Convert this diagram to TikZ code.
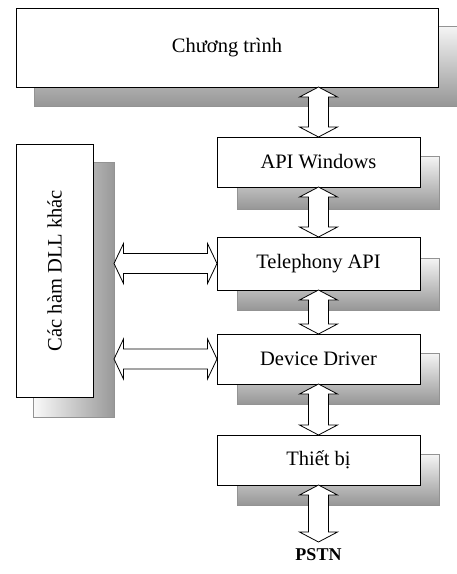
\documentclass[tikz,border=0pt]{standalone}
\usepackage{fontspec}
\setmainfont{Liberation Serif}
\usetikzlibrary{calc}
\tikzset{
  x=1pt, y=-1pt,
  box/.style={draw=black, line width=0.9pt, fill=white, inner sep=0pt, outer sep=0pt, anchor=north west,
              font=\fontsize{20.5}{24}\selectfont},
  shadowH/.style={draw=gray!85, line width=0.8pt, top color=gray!8, middle color=gray!50, bottom color=gray!82, inner sep=0pt, outer sep=0pt, anchor=north west},
  shadowV/.style={draw=gray!85, line width=0.8pt, left color=gray!4, middle color=gray!45, right color=gray!80, inner sep=0pt, outer sep=0pt, anchor=north west},
  fatarrow/.style={draw=black, line width=0.8pt, fill=white, line join=miter},
}
\newcommand\vfat[2]{%
  \draw[fatarrow] let \p1=(#1), \p2=(#2) in
    (\x1,\y1) -- (\x1+19pt,\y1-10pt) -- (\x1+10pt,\y1-10pt) -- (\x1+10pt,\y2+10pt) --
    (\x1+19pt,\y2+10pt) -- (\x1,\y2) -- (\x1-19pt,\y2+10pt) -- (\x1-10pt,\y2+10pt) --
    (\x1-10pt,\y1-10pt) -- (\x1-19pt,\y1-10pt) -- cycle;}
\newcommand\hfat[2]{%
  \draw[fatarrow] let \p1=(#1), \p2=(#2) in
    (\x1,\y1) -- (\x1+9.5pt,\y1+20pt) -- (\x1+9.5pt,\y1+10pt) -- (\x2-9.5pt,\y1+10pt) --
    (\x2-9.5pt,\y1+20pt) -- (\x2,\y1) -- (\x2-9.5pt,\y1-20pt) -- (\x2-9.5pt,\y1-10pt) --
    (\x1+9.5pt,\y1-10pt) -- (\x1+9.5pt,\y1-20pt) -- cycle;}
\begin{document}
\begin{tikzpicture}
\useasboundingbox (0,0) rectangle (457,574);
% shadows
\node[shadowH, minimum width=430, minimum height=80] (progs) at (34,26) {};
\node[shadowH, minimum width=202, minimum height=53] (apis) at (237,156) {};
\node[shadowH, minimum width=202, minimum height=52] (tels) at (237,258) {};
\node[shadowH, minimum width=202, minimum height=51] (devs) at (237,353) {};
\node[shadowH, minimum width=202, minimum height=51] (thiets) at (237,454) {};
\node[shadowV, minimum width=81, minimum height=255] (dlls) at (33,162) {};
% boxes
\node[box, minimum width=422, minimum height=79] (prog) at (16,8) {Chương trình};
\node[box, minimum width=203, minimum height=50] (api) at (217,137) {API Windows};
\node[box, minimum width=203, minimum height=53] (tel) at (217,237) {Telephony API};
\node[box, minimum width=203, minimum height=50] (dev) at (217,334) {Device Driver};
\node[box, minimum width=203, minimum height=50] (thiet) at (217,435) {Thiết bị};
\node[box, minimum width=77, minimum height=253] (dll) at (16,144) {};
\node[rotate=90, font=\fontsize{20.5}{24}\selectfont, inner sep=0pt] (dlltext) at (dll.center) {Các hàm DLL khác};
\node[font=\fontsize{18}{20}\selectfont\bfseries, inner sep=0pt] (pstn) at (318.5,555) {PSTN};
\coordinate (pend) at (318.5,542);
% arrows
\vfat{prog.south -| api.north}{api.north}
\vfat{api.south}{tel.north}
\vfat{tel.south}{dev.north}
\vfat{dev.south}{thiet.north}
\vfat{thiet.south}{pend}
\hfat{dlls.east |- tel.west}{tel.west}
\hfat{dlls.east |- dev.west}{dev.west}
\end{tikzpicture}
\end{document}
